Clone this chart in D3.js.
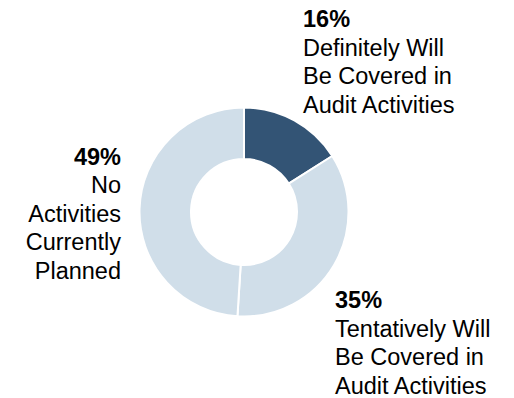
<!DOCTYPE html>
<html>
<head>
<meta charset="utf-8">
<script src="https://cdn.jsdelivr.net/npm/d3@7"></script>
<style>
  html, body { margin: 0; padding: 0; background: #ffffff; }
  svg { display: block; }
  text { font-family: "Liberation Sans", Arial, sans-serif; fill: #000000; }
</style>
</head>
<body>
<svg id="chart" width="514" height="398"></svg>
<script>
const categories = [
  "Definitely Will Be Covered in Audit Activities",
  "Tentatively Will Be Covered in Audit Activities",
  "No Activities Currently Planned"
];
const values = [16, 35, 49];
const percentLabels = ["16%", "35%", "49%"];
const labelLines = [
  ["Definitely Will", "Be Covered in", "Audit Activities"],
  ["Tentatively Will", "Be Covered in", "Audit Activities"],
  ["No", "Activities", "Currently", "Planned"]
];
const colors = ["#335475", "#d0dee9", "#d0dee9"];

const svg = d3.select("#chart");
const cx = 244, cy = 212, outerR = 104.5, innerR = 53;

const data = categories.map((c, i) => ({ category: c, value: values[i], pct: percentLabels[i], lines: labelLines[i], color: colors[i] }));

const pie = d3.pie().value(d => d.value).sort(null);
const arc = d3.arc().innerRadius(innerR).outerRadius(outerR);

const g = svg.append("g").attr("transform", `translate(${cx},${cy})`);
g.selectAll("path")
  .data(pie(data))
  .join("path")
  .attr("d", arc)
  .attr("fill", d => d.data.color)
  .attr("stroke", "#ffffff")
  .attr("stroke-width", 2)
  .attr("stroke-linejoin", "round");

// label placement (anchor x, first baseline, alignment)
const labelPos = [
  { x: 303, y: 27, anchor: "start" },
  { x: 335, y: 308, anchor: "start" },
  { x: 121, y: 164.5, anchor: "end" }
];
const lineH = 28.6;

data.forEach((d, i) => {
  const p = labelPos[i];
  const t = svg.append("text")
    .attr("x", p.x)
    .attr("y", p.y)
    .attr("text-anchor", p.anchor)
    .style("font-size", "23.5px");
  t.append("tspan")
    .attr("x", p.x)
    .attr("font-weight", "bold")
    .text(d.pct);
  d.lines.forEach((ln, j) => {
    t.append("tspan")
      .attr("x", p.x)
      .attr("dy", lineH)
      .text(ln);
  });
});
</script>
</body>
</html>
